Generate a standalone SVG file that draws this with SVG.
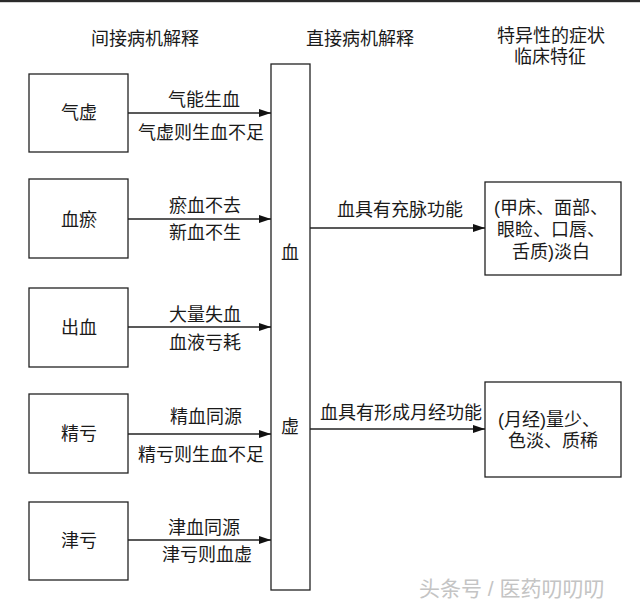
<svg xmlns="http://www.w3.org/2000/svg" width="640" height="610" viewBox="0 0 640 610">
<defs>
<style>
text{font-family:"Liberation Sans","Noto Sans CJK SC",sans-serif;font-size:18px;fill:#1a1a1a;text-anchor:middle}
.box{fill:none;stroke:#222;stroke-width:1.3}
.conn{stroke:#222;stroke-width:1.3;fill:none}
.wm{fill:#c4c4c4;font-size:21px;text-anchor:start}
</style>
<marker id="arr" markerWidth="12" markerHeight="8" refX="12" refY="4" orient="auto" markerUnits="userSpaceOnUse">
<path d="M0,0 L12,4 L0,8 Z" fill="#111"/>
</marker>
</defs>
<rect width="640" height="610" fill="#fff"/>
<rect x="0" y="0" width="640" height="2.2" fill="#2a2a2a"/>
<g id="headers">
<text x="145" y="45">间接病机解释</text>
<text x="360" y="45">直接病机解释</text>
<text y="42"><tspan x="551">特异性的症状</tspan><tspan x="550" dy="21">临床特征</tspan></text>
</g>
<g id="qixu"><rect class="box" x="29" y="74" width="99" height="78"/><text x="79" y="119">气虚</text></g>
<g id="xueyu"><rect class="box" x="29" y="179" width="99" height="79"/><text x="79" y="226">血瘀</text></g>
<g id="chuxue"><rect class="box" x="29" y="288" width="99" height="79"/><text x="79" y="334">出血</text></g>
<g id="jingkui"><rect class="box" x="29" y="394" width="99" height="79"/><text x="79" y="440">精亏</text></g>
<g id="jinkui"><rect class="box" x="29" y="502" width="99" height="78"/><text x="79" y="547">津亏</text></g>
<g id="xuexu"><rect class="box" x="271" y="64" width="39" height="526"/><text x="290" y="259">血</text><text x="290" y="433">虚</text></g>
<g id="sym1"><rect class="box" x="485" y="182" width="136" height="93"/>
<text y="214"><tspan x="551">(甲床、面部、</tspan><tspan x="551" dy="22">眼睑、口唇、</tspan><tspan x="551" dy="22">舌质)淡白</tspan></text></g>
<g id="sym2"><rect class="box" x="485" y="382" width="136" height="95"/>
<text y="426"><tspan x="549">(月经)量少、</tspan><tspan x="553" dy="21">色淡、质稀</tspan></text></g>
<g id="connectors">
<line class="conn" x1="128" y1="113" x2="271" y2="113" marker-end="url(#arr)"/>
<line class="conn" x1="128" y1="219" x2="271" y2="219" marker-end="url(#arr)"/>
<line class="conn" x1="128" y1="327" x2="271" y2="327" marker-end="url(#arr)"/>
<line class="conn" x1="128" y1="434" x2="271" y2="434" marker-end="url(#arr)"/>
<line class="conn" x1="128" y1="540" x2="271" y2="540" marker-end="url(#arr)"/>
<line class="conn" x1="310" y1="228" x2="485" y2="228" marker-end="url(#arr)"/>
<line class="conn" x1="310" y1="429" x2="485" y2="429" marker-end="url(#arr)"/>
<text x="204" y="106">气能生血</text>
<text x="201" y="139">气虚则生血不足</text>
<text x="205" y="212">瘀血不去</text>
<text x="205" y="239">新血不生</text>
<text x="205" y="321">大量失血</text>
<text x="205" y="349">血液亏耗</text>
<text x="206" y="423">精血同源</text>
<text x="201" y="461">精亏则生血不足</text>
<text x="204" y="534">津血同源</text>
<text x="207" y="561">津亏则血虚</text>
<text x="400" y="216">血具有充脉功能</text>
<text x="401" y="419">血具有形成月经功能</text>
</g>
<text class="wm" x="419" y="596">头条号 / 医药叨叨叨</text>
</svg>
